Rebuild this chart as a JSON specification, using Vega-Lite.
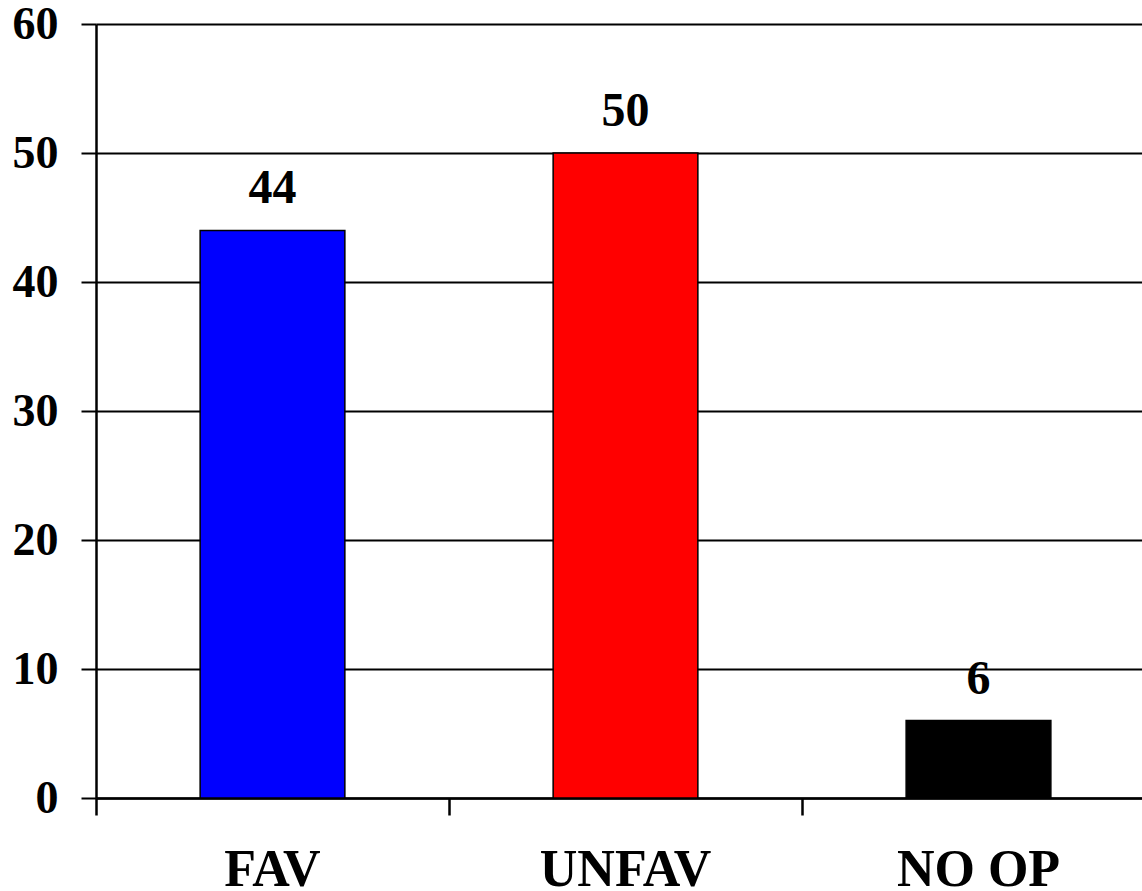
{
  "$schema": "https://vega.github.io/schema/vega-lite/v6.json",
  "autosize": "none",
  "padding": {"left": 96, "top": 24, "right": 0, "bottom": 93},
  "width": 1059,
  "height": 774,
  "background": "white",
  "config": {"view": {"stroke": null}},
  "data": {"values": [
    {"cat": "FAV", "value": 44, "color": "#0000FF"},
    {"cat": "UNFAV", "value": 50, "color": "#FF0000"},
    {"cat": "NO OP", "value": 6, "color": "#000000"}
  ]},
  "encoding": {
    "x": {"field": "cat", "type": "nominal", "sort": null,
      "scale": {"paddingInner": 0, "paddingOuter": 0},
      "axis": {"title": null, "labelAngle": 0, "bandPosition": 0, "domainColor": "black", "domainWidth": 2.5,
        "tickColor": "black", "tickWidth": 2.5, "tickSize": 17, "labelFont": "Liberation Serif", "labelFontWeight": "bold",
        "labelFontSize": 52, "labelColor": "black", "labelPadding": 29, "labelBaseline": "top", "labelLimit": 0, "grid": false}},
    "y": {"field": "value", "type": "quantitative",
      "scale": {"domain": [0, 60], "nice": false},
      "axis": {"title": null, "values": [0, 10, 20, 30, 40, 50, 60], "domainColor": "black", "domainWidth": 2.5,
        "tickColor": "black", "tickWidth": 2, "tickSize": 15, "grid": true, "gridColor": "black", "gridWidth": 2, "gridOpacity": 1,
        "labelFont": "Liberation Serif", "labelFontWeight": "bold", "labelFontSize": 46, "labelColor": "black", "labelPadding": 23}}
  },
  "layer": [
    {"mark": {"type": "bar", "width": {"band": 0.41}, "stroke": "black", "strokeWidth": 1.5},
     "encoding": {"color": {"field": "color", "type": "nominal", "scale": null}}},
    {"mark": {"type": "text", "baseline": "alphabetic", "dy": -27, "font": "Liberation Serif", "fontWeight": "bold", "fontSize": 48, "color": "black"},
     "encoding": {"text": {"field": "value", "type": "quantitative"}}}
  ]
}
